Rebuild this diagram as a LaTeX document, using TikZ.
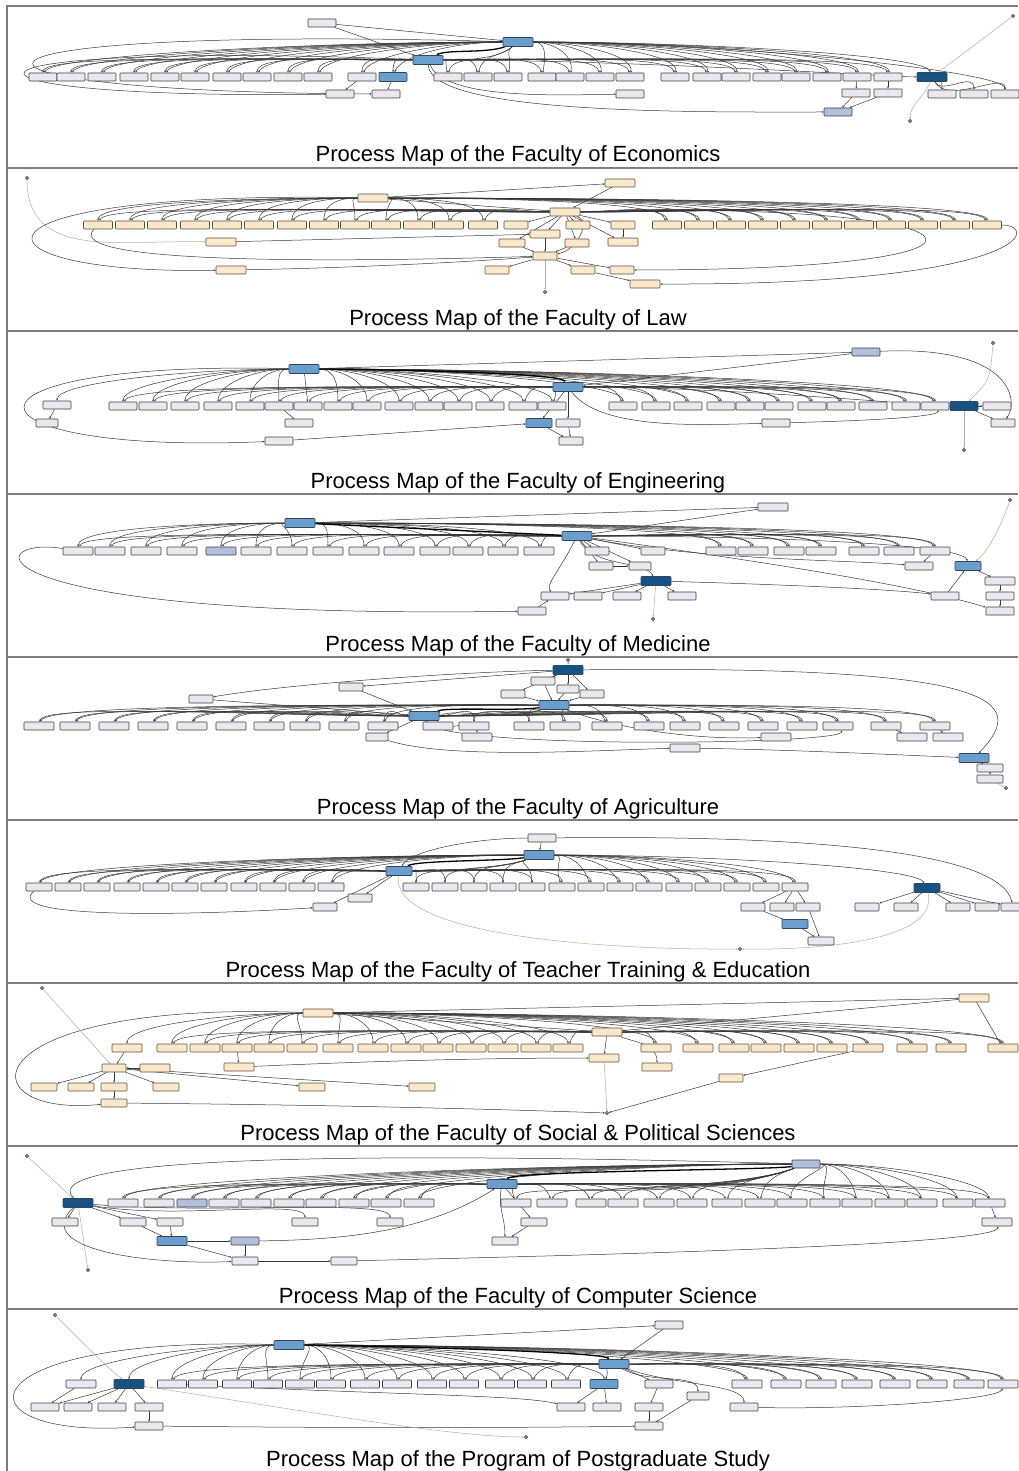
\documentclass[tikz,border=0pt]{standalone}
\usepackage{fontspec}
\setmainfont{Liberation Sans}
\usepackage{tikz}
\usetikzlibrary{arrows.meta, backgrounds}
\definecolor{boxgray}{RGB}{232,232,238}
\definecolor{boxline}{RGB}{60,60,66}
\definecolor{boxcream}{RGB}{250,232,204}
\definecolor{creamline}{RGB}{95,80,58}
\definecolor{hubblue}{RGB}{108,158,205}
\definecolor{hubline}{RGB}{45,70,100}
\definecolor{hubdark}{RGB}{22,82,130}
\definecolor{hublav}{RGB}{178,192,222}
\definecolor{linkcol}{RGB}{55,55,55}
\definecolor{faintcol}{RGB}{185,170,155}
\definecolor{dotcol}{RGB}{150,125,115}
\definecolor{framecol}{RGB}{125,125,125}
\definecolor{lawred}{RGB}{140,50,40}

\begin{document}
\begin{tikzpicture}[
    x=1pt, y=1pt,
    >={Stealth[length=2.2pt, width=1.8pt]},
    box/.style={draw=boxline, fill=boxgray, line width=0.6pt, rounded corners=0.8pt,
        minimum width=#1, minimum height=8pt, inner sep=0pt},
    box/.default=28pt,
    cbox/.style={box=#1, fill=boxcream, draw=creamline},
    cbox/.default=30pt,
    hub/.style={box=#1, fill=hubblue, draw=hubline, minimum height=9pt},
    hub/.default=30pt,
    dkhub/.style={hub=#1, fill=hubdark},
    dkhub/.default=30pt,
    lav/.style={box=#1, fill=hublav},
    lav/.default=28pt,
    enddot/.style={circle, draw=dotcol!70!black, fill=dotcol, inner sep=0pt, minimum size=3.5pt},
    link/.style={->, draw=linkcol, line width=0.5pt, in distance=19pt},
    strong/.style={link, draw=black, line width=1.3pt, in distance=12pt, out distance=20pt},
    faint/.style={->, draw=faintcol, line width=0.5pt, in distance=15pt},
    redlink/.style={link, draw=lawred, line width=0.6pt},
    sepline/.style={draw=framecol, line width=1.6pt},
    maptitle/.style={font=\fontsize{22}{26}\selectfont, anchor=base, inner sep=0pt},
]
    \useasboundingbox (0,0) rectangle (1018,-1471);

    % frame and titles
    \draw[sepline] (7,-1471) -- (7,-6) -- (1018,-6);
    \foreach \y in {168,331,494,657,820,983,1146,1309}
        \draw[sepline] (7,-\y) -- (1018,-\y);
    \node[maptitle] (ttlEco) at (518,-162) {Process Map of the Faculty of Economics};
    \node[maptitle] (ttlLaw) at (518,-325) {Process Map of the Faculty of Law};
    \node[maptitle] (ttlEng) at (518,-488) {Process Map of the Faculty of Engineering};
    \node[maptitle] (ttlMed) at (518,-651) {Process Map of the Faculty of Medicine};
    \node[maptitle] (ttlAgr) at (518,-814) {Process Map of the Faculty of Agriculture};
    \node[maptitle] (ttlEdu) at (518,-977) {Process Map of the Faculty of Teacher Training \& Education};
    \node[maptitle] (ttlSoc) at (518,-1140) {Process Map of the Faculty of Social \& Political Sciences};
    \node[maptitle] (ttlCs) at (518,-1303) {Process Map of the Faculty of Computer Science};
    \node[maptitle] (ttlPg) at (518,-1466) {Process Map of the Program of Postgraduate Study};

    % Economics
    \node[box] (ecoTop) at (322,-23) {};
    \node[hub] (ecoA) at (428,-60) {};
    \node[hub] (ecoB) at (518,-42) {};
    \foreach \x [count=\i] in {43,71,102,134,165,195,227,257,288,318,362}
        \node[box] (ecoL\i) at (\x,-77) {};
    \node[hub=28pt] (ecoL12) at (393,-77) {};
    \foreach \x [count=\i] in {448,478,508,542,570,600,630,675,707,736,767,796,827,857,888}
        \node[box] (ecoR\i) at (\x,-77) {};
    \node[dkhub] (ecoC) at (932,-77) {};
    \node[box] (ecoD) at (340,-94) {};
    \node[box] (ecoE) at (386,-94) {};
    \node[box] (ecoF) at (630,-94) {};
    \node[box] (ecoG) at (856,-93) {};
    \node[box] (ecoH) at (888,-93) {};
    \node[lav] (ecoK) at (838,-112) {};
    \foreach \x [count=\i] in {942,974,1005}
        \node[box] (ecoS\i) at (\x,-94) {};
    \node[enddot] (ecoIn) at (1013,-16) {};
    \node[enddot] (ecoOut) at (910,-121) {};
    \begin{scope}[on background layer]
        \foreach \i in {1,...,12} {
            \draw[link] (ecoA) to[out=180,in=90] (ecoL\i);
            \draw[link] (ecoB) to[out=180,in=70] (ecoL\i);
        }
        \foreach \i in {1,...,15} \draw[link] (ecoA) to[out=0,in=100] (ecoR\i);
        \foreach \i in {1,2,3} \draw[link] (ecoB) to[out=220,in=80] (ecoR\i);
        \foreach \i in {4,...,15} \draw[link] (ecoB) to[out=0,in=80] (ecoR\i);
        \draw[link] (ecoTop) -- (ecoA);
        \draw[link] (ecoTop) -- (ecoB);
        \draw[strong] (ecoB) to[out=200,in=30] (ecoA);
        \draw[link] (ecoA) to[out=0,in=180] (ecoC);
        \draw[link] (ecoB) to[out=0,in=110] (ecoC);
        \draw[link] (ecoA) .. controls (-90,-40) and (-90,-100) .. (ecoD);
        \draw[link] (ecoB) .. controls (-100,-25) and (-100,-92) .. (ecoE);
        \draw[link] (ecoL11) -- (ecoD);
        \draw[link] (ecoL12) -- (ecoE);
        \draw[link] (ecoA) .. controls (445,-100) and (560,-95) .. (ecoF);
        \draw[link] (ecoA) .. controls (430,-115) and (700,-112) .. (ecoK);
        \draw[link] (ecoR14) -- (ecoG);
        \draw[link] (ecoR15) -- (ecoH);
        \draw[link] (ecoG) -- (ecoK);
        \draw[link] (ecoH) -- (ecoK);
        \foreach \i in {1,2,3} \draw[link] (ecoC) to[out=-60,in=90] (ecoS\i);
        \draw[link] (ecoB) to[out=0,in=90] (ecoS3);
        \draw[faint] (ecoIn) -- (ecoC);
        \draw[faint] (ecoC) to[out=-110,in=90] (ecoOut);
    \end{scope}

    % Law
    \node[enddot] (lawIn) at (27,-178) {};
    \node[cbox] (lawTop) at (620,-183) {};
    \node[cbox] (lawA) at (373,-198) {};
    \node[cbox] (lawB) at (565,-212) {};
    \foreach \x [count=\i] in {98,130,162,195,227,259,292,324,355,386,418,449,483}
        \node[cbox=29pt] (lawL\i) at (\x,-225) {};
    \node[cbox=24pt] (lawM1) at (516,-225) {};
    \node[cbox=24pt] (lawM2) at (578,-225) {};
    \node[cbox=24pt] (lawM3) at (623,-225) {};
    \foreach \x [count=\i] in {667,699,731,763,795,827,859,891,923,955,987}
        \node[cbox=29pt] (lawR\i) at (\x,-225) {};
    \node[cbox] (lawC) at (545,-234) {};
    \node[cbox] (lawD1) at (221,-242) {};
    \node[cbox=26pt] (lawD2) at (512,-243) {};
    \node[cbox=24pt] (lawD3) at (577,-243) {};
    \node[cbox] (lawD4) at (623,-242) {};
    \node[cbox=24pt] (lawE) at (545,-256) {};
    \node[cbox] (lawF1) at (231,-270) {};
    \node[cbox=24pt] (lawF2) at (497,-270) {};
    \node[cbox=24pt] (lawF3) at (583,-270) {};
    \node[cbox=24pt] (lawF4) at (622,-270) {};
    \node[cbox] (lawF5) at (645,-284) {};
    \node[enddot] (lawOut) at (545,-292) {};
    \begin{scope}[on background layer]
        \foreach \i in {1,...,9} \draw[link] (lawA) to[out=180,in=90] (lawL\i);
        \foreach \i in {10,...,13} \draw[link] (lawA) to[out=0,in=90] (lawL\i);
        \foreach \i in {1,...,13} \draw[link] (lawB) to[out=180,in=70] (lawL\i);
        \foreach \i in {1,...,11} {
            \draw[link] (lawA) to[out=0,in=90] (lawR\i);
            \draw[link] (lawB) to[out=0,in=110] (lawR\i);
        }
        \draw[link] (lawA) -- (lawTop);
        \draw[link] (lawTop) -- (lawB);
        \draw[link] (lawA) -- (lawB);
        \foreach \n in {lawM1,lawM2,lawM3,lawC,lawD2,lawD3,lawD4} \draw[link] (lawB) -- (\n);
        \draw[redlink] (lawB) to[out=-20,in=10] (lawE);
        \foreach \n in {lawC,lawD2,lawD3} \draw[link] (\n) -- (lawE);
        \foreach \n in {lawF2,lawF3,lawF4} \draw[link] (lawE) -- (\n);
        \draw[link] (lawF3) -- (lawF5);
        \draw[link] (lawM3) -- (lawD4);
        \draw[faint] (lawE) -- (lawOut);
        \draw[faint] (lawIn) .. controls (27,-260) and (120,-240) .. (lawD1);
        \draw[link] (lawA) .. controls (-60,-190) and (-40,-275) .. (lawF1);
        \draw[link] (lawL1) .. controls (60,-265) and (350,-262) .. (lawE);
        \draw[link] (lawF1) .. controls (350,-268) and (470,-262) .. (lawE);
        \draw[link] (lawD1) -- (lawC);
        \draw[link] (lawR11) .. controls (1040,-225) and (1030,-285) .. (lawF5);
        \draw[link] (lawB) .. controls (1000,-200) and (1060,-270) .. (lawF4);
    \end{scope}

    % Engineering
    \node[enddot] (engIn) at (993,-343) {};
    \node[lav] (engTop) at (866,-352) {};
    \node[hub] (engA) at (304,-369) {};
    \node[hub] (engB) at (568,-387) {};
    \node[box] (engP) at (57,-405) {};
    \node[box=22pt] (engQ) at (47,-423) {};
    \foreach \x [count=\i] in {123,153,185,218,250,279,308,338,367,399,429,458,490,523,552}
        \node[box] (engL\i) at (\x,-406) {};
    \foreach \x [count=\i] in {623,656,688,721,750,779,812,841,873,906,935}
        \node[box] (engR\i) at (\x,-406) {};
    \node[dkhub=28pt] (engC) at (964,-406) {};
    \node[box] (engS) at (997,-406) {};
    \node[box] (engD) at (299,-423) {};
    \node[hub=26pt] (engE) at (539,-423) {};
    \node[box=24pt] (engF) at (568,-423) {};
    \node[box] (engG) at (776,-423) {};
    \node[box=24pt] (engH) at (1003,-423) {};
    \node[box] (engJ) at (279,-441) {};
    \node[box=24pt] (engK) at (571,-441) {};
    \node[enddot] (engOut) at (964,-450) {};
    \begin{scope}[on background layer]
        \foreach \i in {1,...,6} \draw[link] (engA) to[out=180,in=90] (engL\i);
        \foreach \i in {8,...,15} \draw[link] (engA) to[out=0,in=90] (engL\i);
        \draw[link] (engA) -- (engL7);
        \foreach \i in {1,...,15} \draw[link] (engB) to[out=180,in=70] (engL\i);
        \foreach \i in {1,...,11} {
            \draw[link] (engA) to[out=0,in=90] (engR\i);
            \draw[link] (engB) to[out=0,in=110] (engR\i);
        }
        \draw[strong] (engA) to[out=0,in=120] (engB);
        \draw[link] (engA) -- (engTop);
        \draw[link] (engTop) -- (engB);
        \draw[link] (engTop) .. controls (1010,-345) and (1020,-400) .. (engH);
        \draw[link] (engB) to[out=0,in=180] (engC);
        \draw[link] (engC) -- (engH);
        \draw[link] (engC) -- (engS);
        \draw[faint] (engIn) .. controls (990,-380) .. (engC);
        \draw[faint] (engC) -- (engOut);
        \draw[link] (engA) .. controls (-70,-360) and (-50,-455) .. (engJ);
        \draw[link] (engA) to[out=180,in=90] (engP);
        \draw[link] (engP) -- (engQ);
        \draw[link] (engJ) -- (engE);
        \draw[link] (engB) -- (engE);
        \draw[link] (engB) -- (engF);
        \draw[link] (engE) -- (engK);
        \draw[link] (engF) -- (engK);
        \draw[link] (engL6) -- (engD);
        \draw[link] (engB) .. controls (600,-430) and (700,-425) .. (engG);
        \draw[link] (engG) .. controls (900,-420) and (940,-415) .. (engR11);
    \end{scope}

    % Medicine
    \node[box=30pt] (medTop) at (773,-507) {};
    \node[enddot] (medIn) at (1010,-500) {};
    \node[hub] (medA) at (300,-523) {};
    \node[hub] (medB) at (577,-536) {};
    \foreach \x [count=\i] in {78,110,146,182}
        \node[box=30pt] (medL\i) at (\x,-551) {};
    \node[lav=30pt] (medL5) at (221,-551) {};
    \foreach \x [count=\i from 6] in {256,292,328,364,399,435,468,503,539}
        \node[box=30pt] (medL\i) at (\x,-551) {};
    \node[box=24pt] (medM1) at (597,-551) {};
    \node[box=24pt] (medM2) at (653,-551) {};
    \foreach \x [count=\i] in {721,753,789,821,864,899,935}
        \node[box=30pt] (medR\i) at (\x,-551) {};
    \node[box=24pt] (medN1) at (601,-566) {};
    \node[box=22pt] (medN2) at (640,-566) {};
    \node[box] (medN3) at (919,-566) {};
    \node[hub=26pt] (medN4) at (968,-566) {};
    \node[dkhub] (medC) at (656,-581) {};
    \node[box=30pt] (medS1) at (1000,-581) {};
    \foreach \x [count=\i] in {555,588,627,682}
        \node[box] (medT\i) at (\x,-596) {};
    \node[box] (medT5) at (945,-596) {};
    \node[box] (medT6) at (1000,-596) {};
    \node[box] (medU1) at (532,-611) {};
    \node[box] (medU2) at (1000,-611) {};
    \node[enddot] (medOut) at (653,-619) {};
    \begin{scope}[on background layer]
        \foreach \i in {1,...,7} \draw[link] (medA) to[out=180,in=90] (medL\i);
        \foreach \i in {8,...,14} \draw[link] (medA) to[out=0,in=90] (medL\i);
        \foreach \i in {1,...,14} \draw[link] (medB) to[out=180,in=70] (medL\i);
        \foreach \i in {1,...,7} {
            \draw[link] (medA) to[out=0,in=90] (medR\i);
            \draw[link] (medB) to[out=0,in=110] (medR\i);
        }
        \draw[strong] (medA) -- (medB);
        \draw[link] (medA) -- (medTop);
        \draw[link] (medTop) -- (medB);
        \foreach \n in {medM1,medM2,medN1,medN2} \draw[link] (medB) -- (\n);
        \draw[link] (medB) to[out=-60,in=120] (medC);
        \draw[link] (medN1) -- (medN2);
        \foreach \i in {1,...,4} \draw[link] (medC) -- (medT\i);
        \draw[link] (medB) .. controls (560,-570) and (545,-585) .. (medT1);
        \draw[link] (medC) .. controls (800,-585) and (900,-590) .. (medT5);
        \draw[link] (medB) .. controls (700,-560) and (850,-560) .. (medN3);
        \draw[link] (medR7) -- (medN3);
        \draw[link] (medB) to[out=0,in=100] (medN4);
        \draw[link] (medN4) -- (medS1);
        \draw[link] (medS1) -- (medT6);
        \draw[link] (medT6) -- (medU2);
        \draw[link] (medT5) -- (medN4);
        \draw[faint] (medIn) .. controls (1000,-530) and (985,-555) .. (medN4);
        \draw[faint] (medC) -- (medOut);
        \draw[link] (medL1) .. controls (-20,-535) and (-40,-620) .. (medU1);
        \draw[link] (medU1) -- (medT1);
        \draw[link] (medB) .. controls (900,-580) and (960,-600) .. (medU2);
    \end{scope}

    % Agriculture
    \node[enddot] (agrIn) at (568,-660) {};
    \node[dkhub] (agrTop) at (568,-670) {};
    \node[box=24pt] (agrK1) at (543,-681) {};
    \node[box=22pt] (agrK2) at (568,-689) {};
    \node[box=24pt] (agrK3) at (513,-694) {};
    \node[box=24pt] (agrK4) at (592,-694) {};
    \node[box=24pt] (agrP1) at (351,-687) {};
    \node[box=24pt] (agrP2) at (201,-699) {};
    \node[hub] (agrB) at (554,-705) {};
    \node[hub] (agrA) at (424,-716) {};
    \foreach \x [count=\i] in {39,75,114,153,192,231,269,305,344,383}
        \node[box=30pt] (agrL\i) at (\x,-726) {};
    \foreach \x [count=\i] in {438,474,529,565,607,649,685,724,763,802,838,886,935}
        \node[box=30pt] (agrR\i) at (\x,-726) {};
    \node[box=22pt] (agrM1) at (377,-737) {};
    \node[box=30pt] (agrM2) at (477,-737) {};
    \node[box=30pt] (agrM3) at (776,-737) {};
    \node[box=30pt] (agrM4) at (912,-737) {};
    \node[box=30pt] (agrM5) at (948,-737) {};
    \node[box=30pt] (agrN) at (685,-748) {};
    \node[hub] (agrC) at (974,-758) {};
    \node[box=26pt] (agrC1) at (990,-768) {};
    \node[box=26pt] (agrC2) at (990,-779) {};
    \node[enddot] (agrOut) at (1006,-788) {};
    \begin{scope}[on background layer]
        \foreach \i in {1,...,10} {
            \draw[link] (agrA) to[out=180,in=80] (agrL\i);
            \draw[link] (agrB) to[out=180,in=70] (agrL\i);
        }
        \foreach \i in {1,...,13} \draw[link] (agrA) to[out=0,in=90] (agrR\i);
        \foreach \i in {1,2,3} \draw[link] (agrB) to[out=200,in=90] (agrR\i);
        \foreach \i in {4,...,13} \draw[link] (agrB) to[out=0,in=110] (agrR\i);
        \draw[strong] (agrB) to[out=190,in=20] (agrA);
        \foreach \n in {agrK1,agrK2,agrK3,agrK4} {
            \draw[link] (agrTop) -- (\n);
            \draw[link] (\n) -- (agrB);
        }
        \draw[link] (agrTop) -- (agrP1);
        \draw[link] (agrTop) .. controls (450,-672) and (280,-685) .. (agrP2);
        \draw[link] (agrP1) -- (agrA);
        \draw[link] (agrP2) -- (agrA);
        \draw[link] (agrTop) .. controls (1000,-665) and (1030,-700) .. (agrC);
        \draw[link] (agrA) -- (agrM1);
        \draw[link] (agrA) to[out=-60,in=90] (agrM2);
        \draw[link] (agrA) .. controls (430,-750) and (850,-745) .. (agrR11);
        \draw[link] (agrM1) .. controls (450,-760) and (600,-750) .. (agrN);
        \draw[link] (agrN) .. controls (800,-750) and (900,-755) .. (agrC);
        \draw[link] (agrB) .. controls (620,-730) and (700,-740) .. (agrM3);
        \draw[link] (agrR12) -- (agrM4);
        \draw[link] (agrR13) -- (agrM5);
        \draw[link] (agrC) -- (agrC1);
        \draw[link] (agrC1) -- (agrC2);
        \draw[faint] (agrC2) -- (agrOut);
        \draw[faint] (agrIn) -- (agrTop);
    \end{scope}

    % Teacher Training & Education
    \node[box] (eduTop) at (542,-838) {};
    \node[hub] (eduB) at (539,-855) {};
    \node[hub=26pt] (eduA) at (399,-871) {};
    \foreach \x [count=\i] in {39,68,97,127,156,185,214,244,273,302,331}
        \node[box=26pt] (eduL\i) at (\x,-887) {};
    \foreach \x [count=\i] in {416,445,474,503,532,562,591,620,649,679,708,737,766,795}
        \node[box=26pt] (eduR\i) at (\x,-887) {};
    \node[dkhub=26pt] (eduC) at (927,-888) {};
    \node[box=24pt] (eduD) at (325,-907) {};
    \node[box=24pt] (eduE) at (360,-898) {};
    \foreach \x [count=\i] in {753,782,808,867,906,958,987,1013}
        \node[box=24pt] (eduS\i) at (\x,-907) {};
    \node[hub=26pt] (eduF) at (795,-924) {};
    \node[box=26pt] (eduG) at (821,-941) {};
    \node[enddot] (eduOut) at (740,-949) {};
    \begin{scope}[on background layer]
        \foreach \i in {1,...,11} {
            \draw[link] (eduA) to[out=180,in=80] (eduL\i);
            \draw[link] (eduB) to[out=180,in=70] (eduL\i);
        }
        \foreach \i in {1,...,14} \draw[link] (eduA) to[out=0,in=90] (eduR\i);
        \foreach \i in {1,...,5} \draw[link] (eduB) to[out=200,in=90] (eduR\i);
        \foreach \i in {6,...,14} \draw[link] (eduB) to[out=0,in=110] (eduR\i);
        \draw[strong] (eduB) to[out=190,in=30] (eduA);
        \draw[link] (eduTop) -- (eduB);
        \draw[link] (eduTop) to[out=180,in=60] (eduA);
        \draw[link] (eduTop) .. controls (800,-835) and (1000,-850) .. (eduS8);
        \draw[link] (eduB) to[out=0,in=120] (eduC);
        \foreach \i in {4,...,8} \draw[link] (eduC) -- (eduS\i);
        \foreach \i in {1,2,3} \draw[link] (eduR14) -- (eduS\i);
        \draw[link] (eduS1) -- (eduF);
        \draw[link] (eduF) -- (eduG);
        \draw[link] (eduS3) -- (eduG);
        \draw[link] (eduA) -- (eduE);
        \draw[link] (eduL1) .. controls (0,-920) and (200,-915) .. (eduD);
        \draw[link] (eduA) -- (eduD);
        \draw[faint] (eduA) .. controls (390,-935) and (600,-950) .. (eduOut);
        \draw[faint] (eduC) .. controls (940,-945) and (800,-950) .. (eduOut);
    \end{scope}

    % Social & Political Sciences
    \node[enddot] (socIn) at (42,-988) {};
    \node[cbox] (socTop) at (974,-998) {};
    \node[cbox] (socA) at (318,-1013) {};
    \node[cbox] (socB) at (607,-1032) {};
    \node[cbox] (socP) at (127,-1048) {};
    \foreach \x [count=\i] in {172,205,237,269,302,338,373,406,438,471,503,536,568}
        \node[cbox=30pt] (socL\i) at (\x,-1048) {};
    \foreach \x [count=\i] in {656,698,734,766,799,832,868,912,951,1003}
        \node[cbox=30pt] (socR\i) at (\x,-1048) {};
    \node[cbox] (socC) at (604,-1058) {};
    \node[cbox=24pt] (socD1) at (114,-1068) {};
    \node[cbox] (socD2) at (155,-1068) {};
    \node[cbox] (socD3) at (239,-1067) {};
    \node[cbox] (socD4) at (657,-1067) {};
    \node[cbox=24pt] (socD5) at (731,-1078) {};
    \foreach \x [count=\i] in {44,81,114,166,312,422}
        \node[cbox=26pt] (socE\i) at (\x,-1087) {};
    \node[cbox=26pt] (socF) at (114,-1103) {};
    \node[enddot] (socOut) at (607,-1113) {};
    \begin{scope}[on background layer]
        \foreach \i in {1,...,5} \draw[link] (socA) to[out=180,in=90] (socL\i);
        \foreach \i in {6,...,13} \draw[link] (socA) to[out=0,in=90] (socL\i);
        \foreach \i in {1,...,13} \draw[link] (socB) to[out=180,in=70] (socL\i);
        \foreach \i in {1,...,10} {
            \draw[link] (socA) to[out=0,in=90] (socR\i);
            \draw[link] (socB) to[out=0,in=110] (socR\i);
        }
        \draw[link] (socA) to[out=180,in=90] (socP);
        \draw[link] (socA) -- (socB);
        \draw[link] (socA) -- (socTop);
        \draw[link] (socTop) -- (socB);
        \draw[link] (socTop) -- (socR10);
        \draw[link] (socB) -- (socC);
        \draw[link] (socB) to[out=-20,in=90] (socD4);
        \draw[link] (socP) -- (socD1);
        \foreach \i in {1,...,6} \draw[link] (socD1) -- (socE\i);
        \draw[link] (socD2) -- (socD1);
        \draw[link] (socL3) -- (socD3);
        \draw[link] (socE3) -- (socF);
        \draw[link] (socA) .. controls (-35,-1000) and (-35,-1118) .. (socF);
        \draw[faint] (socIn) -- (socD1);
        \draw[faint] (socC) -- (socOut);
        \draw[link] (socF) .. controls (350,-1105) and (520,-1110) .. (socOut);
        \draw[link] (socD5) -- (socOut);
        \draw[link] (socR7) -- (socD5);
        \draw[link] (socD3) .. controls (400,-1060) and (500,-1058) .. (socC);
    \end{scope}

    % Computer Science
    \node[enddot] (csIn) at (27,-1156) {};
    \node[lav] (csTop) at (806,-1164) {};
    \node[hub] (csB) at (502,-1184) {};
    \node[dkhub] (csA) at (78,-1203) {};
    \foreach \x [count=\i] in {123,159}
        \node[box=30pt] (csL\i) at (\x,-1203) {};
    \node[lav=30pt] (csL3) at (192,-1203) {};
    \foreach \x [count=\i from 4] in {224,256,289,321,354,386,419}
        \node[box=30pt] (csL\i) at (\x,-1203) {};
    \foreach \x [count=\i] in {516,552,591,623,659,692,727,760,792,825,857,890,922,958,990}
        \node[box=30pt] (csR\i) at (\x,-1203) {};
    \node[box=26pt] (csD1) at (65,-1222) {};
    \node[box=26pt] (csD2) at (133,-1222) {};
    \node[box=26pt] (csD3) at (170,-1222) {};
    \node[box=26pt] (csD4) at (305,-1222) {};
    \node[box=26pt] (csD5) at (390,-1222) {};
    \node[box=26pt] (csD6) at (534,-1222) {};
    \node[box=30pt] (csD7) at (997,-1222) {};
    \node[hub] (csE1) at (172,-1241) {};
    \node[lav] (csE2) at (245,-1241) {};
    \node[box=26pt] (csE3) at (505,-1241) {};
    \node[box=26pt] (csF1) at (245,-1261) {};
    \node[box=26pt] (csF2) at (344,-1261) {};
    \node[enddot] (csOut) at (88,-1270) {};
    \begin{scope}[on background layer]
        \foreach \i in {1,...,10} {
            \draw[link] (csB) to[out=180,in=70] (csL\i);
            \draw[link] (csTop) to[out=180,in=90] (csL\i);
        }
        \foreach \i in {1,...,15} \draw[link] (csB) to[out=0,in=110] (csR\i);
        \foreach \i in {1,...,8} \draw[link] (csTop) to[out=200,in=80] (csR\i);
        \foreach \i in {9,...,15} \draw[link] (csTop) to[out=0,in=100] (csR\i);
        \draw[strong] (csTop) to[out=190,in=45] (csB);
        \draw[link] (csTop) .. controls (300,-1150) and (40,-1160) .. (csA);
        \foreach \n in {csD1,csD2,csD3} \draw[link] (csA) -- (\n);
        \draw[link] (csD2) -- (csE1);
        \draw[link] (csD3) -- (csE1);
        \draw[link] (csE1) -- (csE2);
        \draw[link] (csE1) -- (csF1);
        \draw[link] (csE2) -- (csF1);
        \draw[link] (csF1) -- (csF2);
        \draw[link] (csA) to[out=-10,in=90] (csD4);
        \draw[link] (csA) to[out=-5,in=90] (csD5);
        \draw[link] (csB) -- (csD6);
        \draw[link] (csD6) -- (csE3);
        \draw[link] (csB) to[out=-100,in=90] (csE3);
        \draw[link] (csF2) .. controls (600,-1255) and (1000,-1245) .. (csD7);
        \draw[link] (csR15) -- (csD7);
        \draw[faint] (csIn) -- (csA);
        \draw[faint] (csA) -- (csOut);
        \draw[link] (csE2) .. controls (350,-1240) and (430,-1230) .. (csB);
        \draw[link] (csA) .. controls (30,-1250) and (150,-1265) .. (csF1);
    \end{scope}

    % Postgraduate Study
    \node[enddot] (pgIn) at (55,-1315) {};
    \node[box] (pgTop) at (669,-1325) {};
    \node[hub] (pgA) at (289,-1345) {};
    \node[hub] (pgB) at (614,-1364) {};
    \node[box=30pt] (pgP) at (81,-1384) {};
    \node[dkhub] (pgC) at (129,-1384) {};
    \foreach \x [count=\i] in {172,203,237,268,300,331,365,397,432,464,500,532,566}
        \node[box=29pt] (pgL\i) at (\x,-1384) {};
    \node[hub=28pt] (pgL14) at (604,-1384) {};
    \node[box=28pt] (pgM) at (659,-1384) {};
    \foreach \x [count=\i] in {747,786,821,857,895,932,969,1003}
        \node[box=30pt] (pgR\i) at (\x,-1384) {};
    \node[box=22pt] (pgN) at (698,-1396) {};
    \foreach \x [count=\i] in {45,78,112,149,571,607,649,744}
        \node[box=28pt] (pgS\i) at (\x,-1407) {};
    \node[box=28pt] (pgT1) at (149,-1426) {};
    \node[box=28pt] (pgT2) at (649,-1426) {};
    \node[enddot] (pgOut) at (526,-1437) {};
    \begin{scope}[on background layer]
        \foreach \i in {1,...,4} \draw[link] (pgA) to[out=180,in=90] (pgL\i);
        \foreach \i in {5,...,14} \draw[link] (pgA) to[out=0,in=90] (pgL\i);
        \foreach \i in {1,...,14} \draw[link] (pgB) to[out=180,in=70] (pgL\i);
        \foreach \i in {1,...,8} {
            \draw[link] (pgA) to[out=0,in=90] (pgR\i);
            \draw[link] (pgB) to[out=0,in=110] (pgR\i);
        }
        \draw[link] (pgA) to[out=180,in=90] (pgP);
        \draw[link] (pgA) to[out=180,in=90] (pgC);
        \draw[strong] (pgA) to[out=0,in=135] (pgB);
        \draw[link] (pgA) -- (pgTop);
        \draw[link] (pgTop) -- (pgB);
        \draw[link] (pgB) -- (pgM);
        \draw[link] (pgB) to[out=-30,in=90] (pgN);
        \draw[link] (pgL14) -- (pgS5);
        \draw[link] (pgL14) -- (pgS6);
        \draw[link] (pgM) -- (pgS7);
        \draw[link] (pgS7) -- (pgT2);
        \draw[link] (pgN) -- (pgT2);
        \draw[link] (pgB) to[out=-20,in=90] (pgS8);
        \draw[link] (pgS8) .. controls (850,-1410) and (1000,-1400) .. (pgR8);
        \foreach \i in {1,...,4} \draw[link] (pgC) -- (pgS\i);
        \draw[link] (pgP) -- (pgS1);
        \draw[link] (pgS4) -- (pgT1);
        \draw[link] (pgT1) .. controls (350,-1428) and (500,-1428) .. (pgT2);
        \draw[link] (pgA) .. controls (-45,-1335) and (-45,-1440) .. (pgT1);
        \draw[faint] (pgIn) .. controls (90,-1350) and (110,-1370) .. (pgC);
        \draw[faint] (pgC) .. controls (300,-1410) and (450,-1437) .. (pgOut);
        \draw[link] (pgL1) .. controls (400,-1395) and (520,-1395) .. (pgS5);
    \end{scope}
\end{tikzpicture}
\end{document}
